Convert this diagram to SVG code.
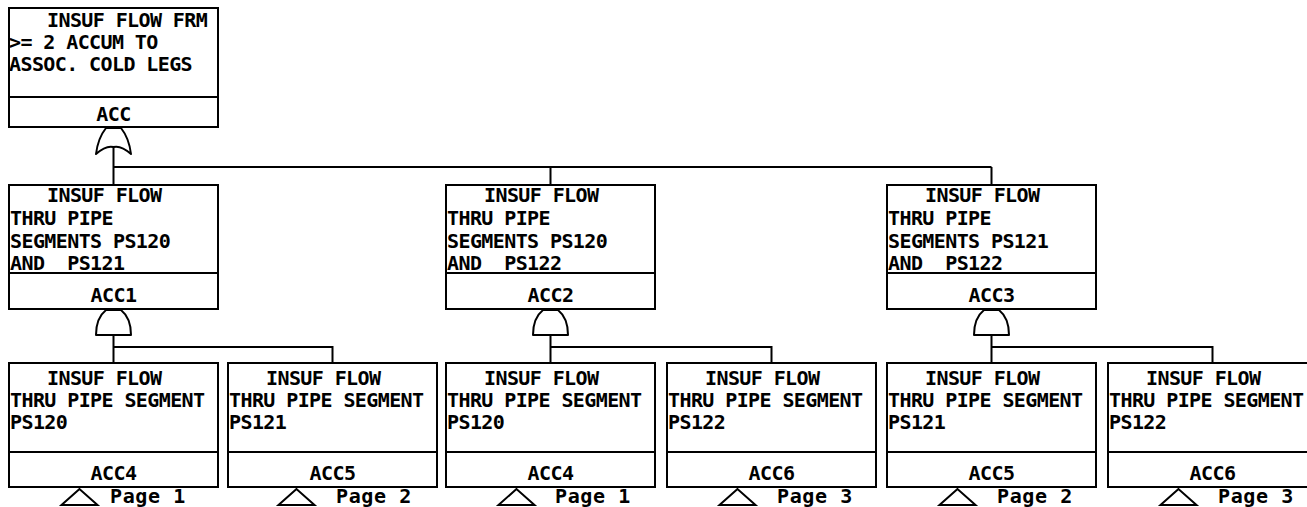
<svg xmlns="http://www.w3.org/2000/svg" width="1307" height="507" viewBox="0 0 1307 507">
<style>
.bx{fill:none;stroke:#000;stroke-width:2}
.ln{fill:none;stroke:#000;stroke-width:2}
.gt{fill:#fff;stroke:#000;stroke-width:2;stroke-linejoin:round}
.t{font-family:"DejaVu Sans Mono","Liberation Mono",monospace;font-weight:bold;font-size:20px;letter-spacing:-0.6px;fill:#000}
.c{text-anchor:middle}
.pg{font-family:"DejaVu Sans Mono","Liberation Mono",monospace;font-weight:bold;font-size:20px;letter-spacing:0.6px;fill:#000}
.tri{fill:#fff;stroke:#000;stroke-width:2}
</style>
<rect width="1307" height="507" fill="#fff"/>
<g id="connectors">
  <path class="ln" d="M113.5,147 V185 M113.5,167 H991.5 M550.5,167 V185 M991.5,167 V185"/>
  <path class="ln" d="M113.5,335 V363 M113.5,347 H332.5 V363"/>
  <path class="ln" d="M550.5,335 V363 M550.5,347 H771.5 V363"/>
  <path class="ln" d="M991.5,335 V363 M991.5,347 H1212.5 V363"/>
</g>
<g id="gates">
  <path id="or-ACC" class="gt" d="M106,128 L121,128 Q129,138 131,154 Q121,145 113.5,147 Q106,145 96,154 Q98,138 106,128 Z"/>
  <path id="and-ACC1" class="gt" d="M106,310 L121,310 Q131,318 131,335 L96,335 Q96,318 106,310 Z"/>
  <path id="and-ACC2" class="gt" d="M543,310 L558,310 Q568,318 568,335 L533,335 Q533,318 543,310 Z"/>
  <path id="and-ACC3" class="gt" d="M984,310 L999,310 Q1009,318 1009,335 L974,335 Q974,318 984,310 Z"/>
</g>
<g id="ACC">
  <rect class="bx" x="9" y="8" width="209" height="119"/>
  <line class="ln" x1="9" y1="97" x2="218" y2="97"/>
  <text class="t" x="47" y="27">INSUF FLOW FRM</text>
  <text class="t" x="9" y="49">&gt;= 2 ACCUM TO</text>
  <text class="t" x="9" y="71">ASSOC. COLD LEGS</text>
  <text class="t c" x="113.5" y="121">ACC</text>
</g>
<g id="ACC1">
  <rect class="bx" x="9" y="185" width="209" height="124"/>
  <line class="ln" x1="9" y1="273" x2="218" y2="273"/>
  <text class="t" x="47" y="202">INSUF FLOW</text>
  <text class="t" x="10" y="225">THRU PIPE</text>
  <text class="t" x="10" y="248">SEGMENTS PS120</text>
  <text class="t" x="10" y="270" xml:space="preserve">AND  PS121</text>
  <text class="t c" x="113.5" y="302">ACC1</text>
</g>
<g id="ACC2">
  <rect class="bx" x="446" y="185" width="209" height="124"/>
  <line class="ln" x1="446" y1="273" x2="655" y2="273"/>
  <text class="t" x="484" y="202">INSUF FLOW</text>
  <text class="t" x="447" y="225">THRU PIPE</text>
  <text class="t" x="447" y="248">SEGMENTS PS120</text>
  <text class="t" x="447" y="270" xml:space="preserve">AND  PS122</text>
  <text class="t c" x="550.5" y="302">ACC2</text>
</g>
<g id="ACC3">
  <rect class="bx" x="887" y="185" width="209" height="124"/>
  <line class="ln" x1="887" y1="273" x2="1096" y2="273"/>
  <text class="t" x="925" y="202">INSUF FLOW</text>
  <text class="t" x="888" y="225">THRU PIPE</text>
  <text class="t" x="888" y="248">SEGMENTS PS121</text>
  <text class="t" x="888" y="270" xml:space="preserve">AND  PS122</text>
  <text class="t c" x="991.5" y="302">ACC3</text>
</g>
<g id="ACC4-a">
  <rect class="bx" x="9" y="363" width="209" height="124"/>
  <line class="ln" x1="9" y1="452" x2="218" y2="452"/>
  <text class="t" x="47" y="385">INSUF FLOW</text>
  <text class="t" x="10" y="407">THRU PIPE SEGMENT</text>
  <text class="t" x="10" y="429">PS120</text>
  <text class="t c" x="113.5" y="480">ACC4</text>
  <polygon class="tri" points="79.5,489 61.5,505 97.5,505"/>
  <text class="pg" x="110" y="503">Page 1</text>
</g>
<g id="ACC5-a">
  <rect class="bx" x="228" y="363" width="209" height="124"/>
  <line class="ln" x1="228" y1="452" x2="437" y2="452"/>
  <text class="t" x="266" y="385">INSUF FLOW</text>
  <text class="t" x="229" y="407">THRU PIPE SEGMENT</text>
  <text class="t" x="229" y="429">PS121</text>
  <text class="t c" x="332.5" y="480">ACC5</text>
  <polygon class="tri" points="296.5,489 278.5,505 314.5,505"/>
  <text class="pg" x="336" y="503">Page 2</text>
</g>
<g id="ACC4-b">
  <rect class="bx" x="446" y="363" width="209" height="124"/>
  <line class="ln" x1="446" y1="452" x2="655" y2="452"/>
  <text class="t" x="484" y="385">INSUF FLOW</text>
  <text class="t" x="447" y="407">THRU PIPE SEGMENT</text>
  <text class="t" x="447" y="429">PS120</text>
  <text class="t c" x="550.5" y="480">ACC4</text>
  <polygon class="tri" points="516.5,489 498.5,505 534.5,505"/>
  <text class="pg" x="555" y="503">Page 1</text>
</g>
<g id="ACC6-a">
  <rect class="bx" x="667" y="363" width="209" height="124"/>
  <line class="ln" x1="667" y1="452" x2="876" y2="452"/>
  <text class="t" x="705" y="385">INSUF FLOW</text>
  <text class="t" x="668" y="407">THRU PIPE SEGMENT</text>
  <text class="t" x="668" y="429">PS122</text>
  <text class="t c" x="771.5" y="480">ACC6</text>
  <polygon class="tri" points="737.5,489 719.5,505 755.5,505"/>
  <text class="pg" x="777" y="503">Page 3</text>
</g>
<g id="ACC5-b">
  <rect class="bx" x="887" y="363" width="209" height="124"/>
  <line class="ln" x1="887" y1="452" x2="1096" y2="452"/>
  <text class="t" x="925" y="385">INSUF FLOW</text>
  <text class="t" x="888" y="407">THRU PIPE SEGMENT</text>
  <text class="t" x="888" y="429">PS121</text>
  <text class="t c" x="991.5" y="480">ACC5</text>
  <polygon class="tri" points="957.5,489 939.5,505 975.5,505"/>
  <text class="pg" x="997" y="503">Page 2</text>
</g>
<g id="ACC6-b">
  <rect class="bx" x="1108" y="363" width="209" height="124"/>
  <line class="ln" x1="1108" y1="452" x2="1317" y2="452"/>
  <text class="t" x="1146" y="385">INSUF FLOW</text>
  <text class="t" x="1109" y="407">THRU PIPE SEGMENT</text>
  <text class="t" x="1109" y="429">PS122</text>
  <text class="t c" x="1212.5" y="480">ACC6</text>
  <polygon class="tri" points="1178.5,489 1160.5,505 1196.5,505"/>
  <text class="pg" x="1218" y="503">Page 3</text>
</g>
</svg>
